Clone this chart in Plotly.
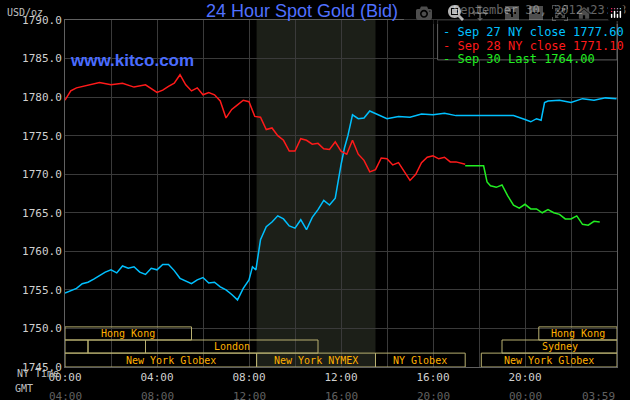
import plotly.graph_objects as go

# hours (NY time) and prices
blue_x = [0,0.25,0.5,0.75,1,1.25,1.5,1.75,2,2.25,2.5,2.75,3,3.25,3.5,3.75,4,4.25,4.5,4.75,5,5.25,5.5,5.75,6,6.25,6.5,6.75,7,7.25,7.5,7.75,8,8.15,8.3,8.5,8.75,9,9.25,9.5,9.75,10,10.25,10.5,10.75,11,11.25,11.5,11.75,12,12.15,12.3,12.5,12.75,13,13.25,13.5,14,14.5,15,15.5,16,16.5,17,17.5,18,18.5,19,19.5,20,20.25,20.5,20.7,20.85,21,21.5,22,22.5,23,23.5,23.98]
blue_y = [1754.6,1754.9,1755.2,1755.8,1756.0,1756.4,1756.9,1757.3,1757.6,1757.2,1758.1,1757.8,1758.0,1757.3,1757.0,1757.8,1757.6,1758.3,1758.3,1757.5,1756.5,1756.1,1755.8,1756.3,1756.6,1755.9,1756.0,1755.4,1755.0,1754.4,1753.7,1755.2,1756.3,1758.0,1757.6,1761.5,1763.2,1763.8,1764.6,1764.2,1763.3,1763.0,1764.1,1762.8,1764.4,1765.4,1766.6,1766.0,1766.9,1771.2,1773.4,1775.0,1777.7,1777.2,1777.3,1778.2,1777.9,1777.2,1777.5,1777.4,1777.8,1777.7,1777.9,1777.6,1777.6,1777.6,1777.6,1777.6,1777.6,1777.1,1776.8,1777.2,1777.0,1779.3,1779.5,1779.6,1779.3,1779.8,1779.6,1779.9,1779.8]
red_x = [0,0.25,0.5,0.75,1,1.5,2,2.5,3,3.5,4,4.25,4.5,4.75,5,5.25,5.5,5.75,6,6.25,6.5,6.75,7,7.25,7.5,7.75,8,8.25,8.5,8.75,9,9.25,9.5,9.75,10,10.25,10.5,10.75,11,11.25,11.5,11.75,12,12.25,12.5,12.75,13,13.25,13.5,13.75,14,14.25,14.5,14.75,15,15.25,15.5,15.75,16,16.25,16.5,16.75,17,17.4]
red_y = [1779.6,1780.8,1781.2,1781.4,1781.6,1781.9,1781.6,1781.8,1781.3,1781.6,1780.6,1780.9,1781.4,1781.8,1782.9,1781.6,1780.8,1781.2,1780.3,1780.6,1780.3,1779.5,1777.3,1778.4,1779.0,1779.6,1779.4,1777.5,1777.4,1775.8,1776.0,1775.0,1774.4,1773.0,1773.0,1774.6,1774.4,1773.9,1774.0,1773.3,1773.2,1774.2,1773.0,1772.6,1774.4,1772.6,1771.8,1770.3,1770.6,1772.1,1772.0,1771.2,1771.5,1770.3,1769.2,1770.0,1771.5,1772.2,1772.4,1772.0,1772.2,1771.6,1771.6,1771.3]
green_x = [17.4,17.8,18.2,18.35,18.5,18.75,19,19.25,19.5,19.75,20,20.25,20.5,20.75,21,21.25,21.5,21.75,22,22.25,22.5,22.75,23,23.25]
green_y = [1771.1,1771.1,1771.1,1769.0,1768.5,1768.3,1768.6,1767.2,1766.0,1765.6,1766.1,1765.5,1765.5,1765.0,1765.4,1765.0,1764.8,1764.2,1764.2,1764.6,1763.5,1763.4,1763.9,1763.8]

x_ticks = list(range(0, 25, 2))
x_labels = ["00:00","","04:00","","08:00","","12:00","","16:00","","20:00","","23:59"]
gmt_labels = ["04:00","08:00","12:00","16:00","20:00","00:00","03:59"]
y_ticks = [1745,1750,1755,1760,1765,1770,1775,1780,1785,1790]
y_labels = [f"{v:.1f}" for v in y_ticks]
sessions = [  # (start, end, row, label)
    (0,5.5,0,"Hong Kong"),(20.6,24,0,"Hong Kong"),
    (0,1,1,""),(1,3.5,1,""),(3.5,11,1,"London"),(19,24,1,"Sydney"),
    (0,8.33,2,"New York Globex"),(8.33,13.5,2,"New York NYMEX"),(13.5,17.4,2,"NY Globex"),(18.1,24,2,"New York Globex")]
rows = [(1748.5,1750.2),(1746.8,1748.5),(1745.0,1746.8)]

MONO = "DejaVu Sans Mono"
fig = go.Figure()
for xs, ys, c in [(blue_x,blue_y,"#00c0ff"),(red_x,red_y,"#ff1a1a"),(green_x,green_y,"#22ee22")]:
    fig.add_trace(go.Scatter(x=xs, y=ys, mode="lines", line=dict(color=c, width=1.5), showlegend=False))

shapes = [dict(type="rect", xref="x", yref="paper", x0=8.33, x1=13.5, y0=0, y1=1,
               fillcolor="#1c1f18", line_width=0, layer="below")]
ann = []
for s, e, r, lab in sessions:
    lo, hi = rows[r]
    shapes.append(dict(type="rect", x0=s, x1=e, y0=lo, y1=hi, line=dict(color="#b8b070", width=1)))
    if lab:
        xc = (s+e)/2 if r != 2 or s > 8 else 4.6
        ann.append(dict(x=xc, y=(lo+hi)/2, text=lab, showarrow=False,
                        font=dict(color="#ffb000", size=10, family=MONO)))
for i, t in enumerate(gmt_labels):
    ann.append(dict(x=i*4 if i < 6 else 24, y=-0.085, yref="paper", text=t, showarrow=False,
                    font=dict(color="#606060", size=11, family=MONO), yanchor="middle",
                    xanchor="right" if i == 6 else "center"))
ann += [
    dict(x=-0.0, xref="paper", xanchor="right", y=-0.04, yref="paper", text="NY Time", showarrow=False,
         font=dict(color="#c0c0c0", size=10, family=MONO), xshift=-4),
    dict(x=-0.0, xref="paper", xanchor="right", y=-0.085, yref="paper", text="GMT", showarrow=False,
         font=dict(color="#c0c0c0", size=10, family=MONO), xshift=-30),
    dict(x=0, y=1.0, xref="paper", yref="paper", xanchor="right", yanchor="bottom", text="USD/oz",
         showarrow=False, font=dict(color="#c0c0c0", size=10, family=MONO), xshift=-20),
    dict(x=0.43, y=1.06, xref="paper", yref="paper", text="24 Hour Spot Gold (Bid)", showarrow=False,
         font=dict(color="#5070ff", size=18, family="Liberation Sans")),
    dict(x=0.005, y=0.915, xref="paper", yref="paper", xanchor="left", text="<b>www.kitco.com</b>",
         showarrow=False, font=dict(color="#4a6cff", size=17, family="Liberation Sans")),
    dict(x=1.02, y=1.055, xref="paper", yref="paper", xanchor="right", text="September 30, 2012 23:13",
         showarrow=False, font=dict(color="#c8c8c8", size=12, family=MONO)),
]
leg = [("Sep 27 NY close 1777.60","#00c0ff"),("Sep 28 NY close 1771.10","#ff1a1a"),("Sep 30 Last 1764.00","#22ee22")]
for i, (t, c) in enumerate(leg):
    ann.append(dict(x=0.682, y=0.99-i*0.038, xref="paper", yref="paper", xanchor="left", yanchor="top",
                    text="- " + t, showarrow=False, font=dict(color=c, size=12, family=MONO)))
shapes.append(dict(type="rect", xref="paper", yref="paper", x0=0.675, x1=1.0, y0=0.885, y1=1.0,
                   line=dict(color="#606060", width=1), fillcolor="black"))

fig.update_layout(
    width=630, height=400, paper_bgcolor="black", plot_bgcolor="black",
    margin=dict(l=65, r=13, t=20, b=33), shapes=shapes, annotations=ann,
    xaxis=dict(range=[0,24], tickvals=x_ticks, ticktext=x_labels, showgrid=True, gridcolor="#3a3a3a",
               zeroline=False, ticks="", tickfont=dict(color="#d0d0d0", size=11, family=MONO),
               showline=True, linecolor="#606060", mirror=True, fixedrange=True, automargin=False),
    yaxis=dict(range=[1745,1790], tickvals=y_ticks, ticktext=y_labels, showgrid=True, gridcolor="#3a3a3a",
               zeroline=False, ticks="", tickfont=dict(color="#d0d0d0", size=11, family=MONO),
               showline=True, linecolor="#606060", mirror=True, automargin=False),
)
fig.write_html("out.html", post_script="document.body.style.margin='0';document.body.style.background='black';")
